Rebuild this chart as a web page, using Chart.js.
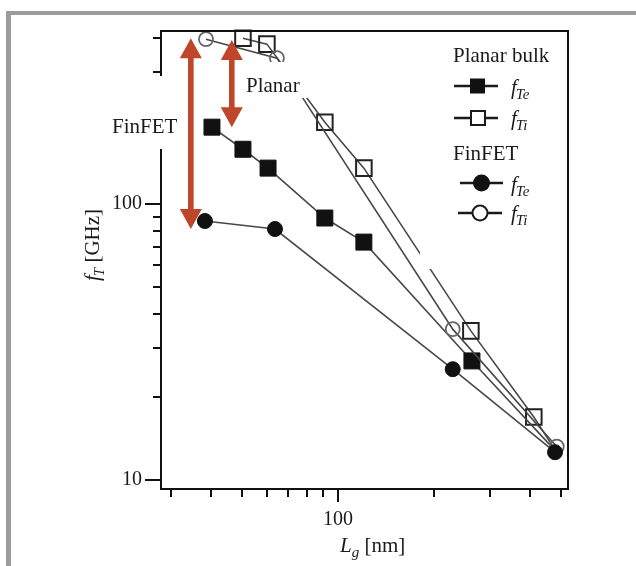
<!DOCTYPE html>
<html><head><meta charset="utf-8">
<script src="https://cdn.jsdelivr.net/npm/chart.js@4.4.1/dist/chart.umd.min.js"></script>
<style>html,body{margin:0;padding:0;background:#fff}#wrap{width:636px;height:566px;position:relative}</style>
</head><body><div id="wrap"><canvas id="c"></canvas></div>
<script>
// ---- data (gate length Lg in nm, fT in GHz) ----
const planarLgTe = [40.3, 50.4, 60.4, 91.0, 120.6, 263, 479];
const planarFTe  = [190, 158, 135, 89, 72.8, 27.0, 12.8];
const planarLgTi = [50.4, 59.9, 91.0, 120.6, 261, 411, 479];
const planarFTi  = [399, 380, 198, 135, 34.7, 16.9, 12.85];
const finfetLgTe = [38.3, 63.5, 229, 479];
const finfetFTe  = [86.8, 81.2, 25.2, 12.6];
const finfetLgTi = [38.6, 64.4, 229, 485];
const finfetFTi  = [396, 338, 35.2, 13.2];
const xTicks = [30, 40, 50, 60, 70, 80, 90, 100, 200, 300, 400, 500];
const yTicks = [10, 20, 30, 40, 50, 60, 70, 80, 90, 100, 200, 300, 400];
const xLabeled = [100];
const yLabeled = [10, 100];
const arrowX = [34.6, 46.5];
const arrowTop = [399, 393];
const arrowBottom = [81.2, 190];

const SERIF = '"Liberation Serif", "Times New Roman", serif';
const mk = (xs, ys) => xs.map((x, i) => ({x: x, y: ys[i]}));
// markers of the planar series are hidden under the FinFET markers at the shared last point
const hideLast = (r) => (c) => (c.dataIndex === c.dataset.data.length - 1 ? 0 : r);

function drawF(ctx, x, y, sub, size) {
  ctx.textAlign = 'left'; ctx.textBaseline = 'alphabetic';
  ctx.font = 'italic ' + size + 'px ' + SERIF;
  ctx.fillText('f', x, y);
  const w = ctx.measureText('f').width;
  ctx.font = 'italic ' + Math.round(size * 0.7) + 'px ' + SERIF;
  ctx.fillText(sub, x + w - 1, y + 5);
  return x + w - 1 + ctx.measureText(sub).width;
}

function arrow(ctx, x, y1, y2) {
  const hw = 11, hh = 20, sw = 2.8;
  ctx.fillStyle = '#c0462b';
  ctx.beginPath();
  ctx.moveTo(x, y1); ctx.lineTo(x + hw, y1 + hh); ctx.lineTo(x + sw, y1 + hh);
  ctx.lineTo(x + sw, y2 - hh); ctx.lineTo(x + hw, y2 - hh); ctx.lineTo(x, y2);
  ctx.lineTo(x - hw, y2 - hh); ctx.lineTo(x - sw, y2 - hh); ctx.lineTo(x - sw, y1 + hh);
  ctx.lineTo(x - hw, y1 + hh); ctx.closePath(); ctx.fill();
}

const deco = {
  id: 'deco',
  beforeDraw(chart) {
    const ctx = chart.ctx;
    ctx.save();
    ctx.fillStyle = '#fff'; ctx.fillRect(0, 0, chart.width, chart.height);
    ctx.fillStyle = '#9c9c9c';
    ctx.fillRect(6, 11, 5, chart.height - 11);
    ctx.fillRect(6, 11, chart.width - 6, 4);
    ctx.restore();
  },
  afterDatasetsDraw(chart) {
    const ctx = chart.ctx, a = chart.chartArea;
    const xs = chart.scales.x, ys = chart.scales.y;
    ctx.save();
    // white label boxes
    ctx.fillStyle = '#fff';
    ctx.fillRect(420, a.top + 1, a.right - 421, 268 - a.top);
    ctx.fillRect(240, 62, 108, 36);
    // plot frame
    ctx.strokeStyle = '#111'; ctx.lineWidth = 2;
    ctx.strokeRect(a.left, a.top, a.right - a.left, a.bottom - a.top);
    // ticks
    ctx.lineWidth = 2;
    ctx.beginPath();
    yTicks.forEach(v => {
      const p = Math.round(ys.getPixelForValue(v));
      const len = yLabeled.includes(v) ? 16 : 8;
      ctx.moveTo(a.left - len, p); ctx.lineTo(a.left, p);
    });
    xTicks.forEach(v => {
      const p = Math.round(xs.getPixelForValue(v));
      const len = xLabeled.includes(v) ? 13 : 8;
      ctx.moveTo(p, a.bottom); ctx.lineTo(p, a.bottom + len);
    });
    ctx.stroke();
    // FinFET label box (covers axis)
    ctx.fillStyle = '#fff';
    ctx.fillRect(100, 76, 84, 73);
    ctx.fillStyle = '#1a1a1a';
    ctx.font = '21px ' + SERIF; ctx.textAlign = 'left'; ctx.textBaseline = 'alphabetic';
    ctx.fillText('FinFET', 112, 133);
    ctx.fillText('Planar', 246, 92);
    // legend
    ctx.fillText('Planar bulk', 453, 62);
    ctx.fillText('FinFET', 453, 160);
    ctx.strokeStyle = '#1a1a1a'; ctx.lineWidth = 2.5;
    ctx.beginPath();
    ctx.moveTo(454, 86); ctx.lineTo(498, 86);
    ctx.moveTo(454, 118); ctx.lineTo(498, 118);
    ctx.moveTo(460, 183); ctx.lineTo(503, 183);
    ctx.moveTo(458, 213); ctx.lineTo(502, 213);
    ctx.stroke();
    ctx.fillStyle = '#111';
    ctx.fillRect(470, 78.5, 15, 15);
    ctx.fillStyle = '#fff'; ctx.lineWidth = 2;
    ctx.fillRect(471, 111, 14, 14); ctx.strokeRect(471, 111, 14, 14);
    ctx.fillStyle = '#111';
    ctx.beginPath(); ctx.arc(481.5, 183, 8.5, 0, Math.PI * 2); ctx.fill();
    ctx.fillStyle = '#fff';
    ctx.beginPath(); ctx.arc(480, 213, 7.5, 0, Math.PI * 2); ctx.fill(); ctx.stroke();
    ctx.fillStyle = '#1a1a1a';
    drawF(ctx, 511, 94, 'Te', 21);
    drawF(ctx, 511, 125, 'Ti', 21);
    drawF(ctx, 511, 191, 'Te', 21);
    drawF(ctx, 511, 220, 'Ti', 21);
    // arrows
    arrowX.forEach((v, i) => {
      arrow(ctx, xs.getPixelForValue(v), ys.getPixelForValue(arrowTop[i]), ys.getPixelForValue(arrowBottom[i]));
    });
    // axis titles
    ctx.fillStyle = '#1a1a1a';
    ctx.textAlign = 'left'; ctx.textBaseline = 'alphabetic';
    ctx.font = 'italic 21px ' + SERIF;
    ctx.fillText('L', 340, 552);
    const lw = ctx.measureText('L').width;
    ctx.font = 'italic 15px ' + SERIF;
    ctx.fillText('g', 340 + lw, 557);
    const gw = ctx.measureText('g').width;
    ctx.font = '21px ' + SERIF;
    ctx.fillText(' [nm]', 340 + lw + gw, 552);
    ctx.save();
    ctx.translate(99, 281); ctx.rotate(-Math.PI / 2);
    const e = drawF(ctx, 0, 0, 'T', 21);
    ctx.font = '21px ' + SERIF;
    ctx.fillText(' [GHz]', e, 0);
    ctx.restore();
    ctx.restore();
  }
};

new Chart(document.getElementById('c'), {
  type: 'line',
  data: {
    datasets: [
      {label: 'FinFET fTe', data: mk(finfetLgTe, finfetFTe), borderColor: '#484848', borderWidth: 1.6,
       pointStyle: 'circle', pointRadius: 7.5, pointBackgroundColor: '#111', pointBorderColor: '#111', pointBorderWidth: 1, clip: false},
      {label: 'FinFET fTi', data: mk(finfetLgTi, finfetFTi), borderColor: '#484848', borderWidth: 1.6,
       pointStyle: 'circle', pointRadius: 7, pointBackgroundColor: 'rgba(0,0,0,0)', pointBorderColor: '#666', pointBorderWidth: 1.8, clip: false},
      {label: 'Planar bulk fTe', data: mk(planarLgTe, planarFTe), borderColor: '#484848', borderWidth: 1.6,
       pointStyle: 'rect', pointRadius: hideLast(11.3), pointBackgroundColor: '#111', pointBorderColor: '#111', pointBorderWidth: 1, clip: false},
      {label: 'Planar bulk fTi', data: mk(planarLgTi, planarFTi), borderColor: '#484848', borderWidth: 1.6,
       pointStyle: 'rect', pointRadius: hideLast(11), pointBackgroundColor: 'rgba(0,0,0,0)', pointBorderColor: '#222', pointBorderWidth: 2, clip: false}
    ]
  },
  options: {
    responsive: true, maintainAspectRatio: false, animation: false,
    layout: {padding: {top: 31, right: 68, bottom: 0, left: 0}},
    plugins: {legend: {display: false}, tooltip: {enabled: false}},
    elements: {line: {tension: 0}},
    scales: {
      x: {
        type: 'logarithmic', min: 27.9, max: 526,
        grid: {display: false, drawTicks: false}, border: {display: false},
        afterBuildTicks: s => { s.ticks = xTicks.map(v => ({value: v})); },
        afterFit: s => { s.height = 77; },
        ticks: {autoSkip: false, maxRotation: 0, padding: 19, color: '#1a1a1a', font: {family: SERIF, size: 20},
                callback: v => xLabeled.includes(v) ? String(v) : ''}
      },
      y: {
        type: 'logarithmic', min: 9.27, max: 424,
        grid: {display: false, drawTicks: false}, border: {display: false},
        afterBuildTicks: s => { s.ticks = yTicks.map(v => ({value: v})); },
        afterFit: s => { s.width = 161; },
        ticks: {autoSkip: false, padding: 19, color: '#1a1a1a', font: {family: SERIF, size: 20},
                callback: v => yLabeled.includes(v) ? String(v) : ''}
      }
    }
  },
  plugins: [deco]
});
</script></body></html>
